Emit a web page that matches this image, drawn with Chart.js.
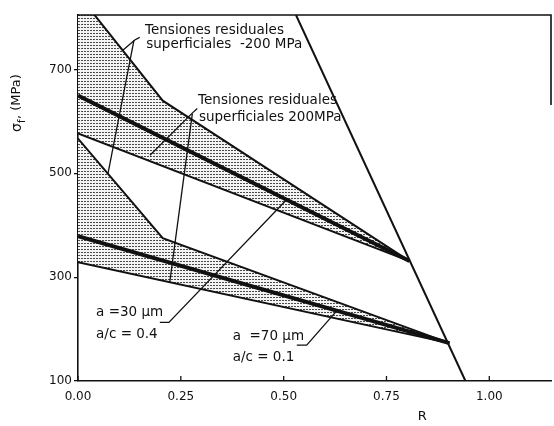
<!DOCTYPE html>
<html>
<head>
<meta charset="utf-8">
<script src="https://cdn.jsdelivr.net/npm/chart.js@4"></script>
<style>
  html, body { margin: 0; padding: 0; background: #fff; }
  #wrap { width: 554px; height: 426px; }
</style>
</head>
<body>
<div id="wrap"><canvas id="chart" width="554" height="426"></canvas></div>
<script>
// R (x) and sigma_f in MPa (y)

// upper band: residual stress -200 / +200 MPa around a = 30 um, a/c = 0.4
const upTopR = [0, 0.206, 0.806];
const upTopS = [845, 640, 331];
const upBotR = [0, 0.806];
const upBotS = [577, 331];
const upMidR = [0, 0.806];
const upMidS = [650, 331];

// lower band: a = 70 um, a/c = 0.1
const loTopR = [0, 0.206, 0.903];
const loTopS = [567, 375, 173];
const loBotR = [0, 0.903];
const loBotS = [329, 173];
const loMidR = [0, 0.903];
const loMidS = [379, 173];

// limit line
const limR = [0.53, 0.942];
const limS = [805, 100];

const xTicks = [0, 0.25, 0.5, 0.75, 1.0];
const yTicks = [100, 300, 500, 700];

// annotation texts (left edge R, centre sigma)
const notes = [
  { text: 'Tensiones residuales', r: 0.163, s: 776 },
  { text: 'superficiales  -200 MPa', r: 0.166, s: 748 },
  { text: 'Tensiones residuales', r: 0.292, s: 641 },
  { text: 'superficiales 200MPa', r: 0.294, s: 608 },
  { text: 'a =30 \u00b5m', r: 0.044, s: 231 },
  { text: 'a/c = 0.4', r: 0.044, s: 190 },
  { text: 'a  =70 \u00b5m', r: 0.376, s: 185 },
  { text: 'a/c = 0.1', r: 0.376, s: 146 }
];

// leader lines, as [R, sigma] polylines
const leaders = [
  [[0.109, 737], [0.138, 757], [0.150, 762]],
  [[0.073, 500], [0.136, 756]],
  [[0.175, 535], [0.279, 617], [0.290, 625]],
  [[0.223, 290], [0.278, 615]],
  [[0.199, 213], [0.221, 213], [0.507, 449]],
  [[0.532, 169], [0.556, 169], [0.629, 235]]
];

const pts = (xs, ys) => xs.map((x, i) => ({ x: x, y: ys[i] }));

function stipple() {
  const t = document.createElement('canvas');
  t.width = 3; t.height = 3;
  const g = t.getContext('2d');
  g.fillStyle = '#f4f4f4';
  g.fillRect(0, 0, 3, 3);
  g.fillStyle = '#4a4a4a';
  g.fillRect(0, 0, 2, 1);
  return g.createPattern(t, 'repeat');
}

const ctx = document.getElementById('chart').getContext('2d');
const dots = stipple();
const ink = '#111';

const line = (data, width, fill, order) => ({
  data: data,
  showLine: true,
  borderColor: ink,
  borderWidth: width,
  pointRadius: 0,
  backgroundColor: dots,
  fill: fill,
  order: order
});

const notesPlugin = {
  id: 'notes',
  afterDatasetsDraw(chart) {
    const c = chart.ctx;
    const xs = chart.scales.x, ys = chart.scales.y;
    const a = chart.chartArea;
    c.save();
    c.strokeStyle = ink;
    c.lineWidth = 1.3;
    leaders.forEach(pl => {
      c.beginPath();
      pl.forEach((p, i) => {
        const px = xs.getPixelForValue(p[0]), py = ys.getPixelForValue(p[1]);
        if (i === 0) c.moveTo(px, py); else c.lineTo(px, py);
      });
      c.stroke();
    });
    c.fillStyle = ink;
    c.font = '13.5px "DejaVu Sans"';
    c.textBaseline = 'middle';
    c.textAlign = 'left';
    notes.forEach(n => {
      c.fillText(n.text, xs.getPixelForValue(n.r), ys.getPixelForValue(n.s));
    });

    // frame: top edge and short right edge
    c.lineWidth = 1.6;
    c.beginPath();
    c.moveTo(a.left, a.top);
    c.lineTo(a.right, a.top);
    c.lineTo(a.right, a.top + 90);
    c.stroke();

    // inward x tick marks
    c.lineWidth = 1.3;
    xTicks.forEach(v => {
      const px = xs.getPixelForValue(v);
      c.beginPath();
      c.moveTo(px, a.bottom);
      c.lineTo(px, a.bottom - 5);
      c.stroke();
    });

    // y title with subscript
    c.translate(17, 108);
    c.rotate(-Math.PI / 2);
    c.textAlign = 'left';
    c.font = '14px "DejaVu Sans"';
    c.fillText('\u03c3', -24, 0);
    c.font = '10px "DejaVu Sans"';
    c.fillText('f', -15, 5);
    c.font = '13px "DejaVu Sans"';
    c.fillText(', (MPa)', -11, 0);
    c.restore();

    // x title
    c.save();
    c.fillStyle = ink;
    c.font = '13px "DejaVu Sans"';
    c.textAlign = 'center';
    c.textBaseline = 'middle';
    c.fillText('R', xs.getPixelForValue(0.837), 417);
    c.restore();
  }
};

new Chart(ctx, {
  type: 'scatter',
  data: {
    datasets: [
      line(pts(upTopR, upTopS), 2, 1, 10),
      line(pts(upBotR, upBotS), 2, false, 5),
      line(pts(upMidR, upMidS), 4, false, 1),
      line(pts(loTopR, loTopS), 2, 4, 10),
      line(pts(loBotR, loBotS), 2, false, 5),
      line(pts(loMidR, loMidS), 4, false, 1),
      line(pts(limR, limS), 2, false, 0)
    ]
  },
  options: {
    responsive: false,
    animation: false,
    layout: { padding: { top: 15, right: 3, left: 0, bottom: 0 } },
    plugins: { legend: { display: false }, tooltip: { enabled: false } },
    scales: {
      x: {
        type: 'linear', min: 0, max: 1.15,
        afterBuildTicks: s => { s.ticks = xTicks.map(v => ({ value: v })); },
        afterFit: s => { s.height = 45; },
        ticks: {
          color: ink, font: { family: 'DejaVu Sans', size: 12 }, padding: 9,
          maxRotation: 0, autoSkip: false,
          callback: v => Number(v).toFixed(2)
        },
        grid: { drawOnChartArea: false, drawTicks: false },
        border: { display: true, color: ink, width: 1.6 }
      },
      y: {
        type: 'linear', min: 100, max: 805,
        afterBuildTicks: s => { s.ticks = yTicks.map(v => ({ value: v })); },
        afterFit: s => { s.width = 78; },
        ticks: { color: ink, font: { family: 'DejaVu Sans', size: 12 }, padding: 2 },
        grid: { drawOnChartArea: false, drawTicks: true, tickLength: 4, color: ink, lineWidth: 1.3 },
        border: { display: true, color: ink, width: 1.6 }
      }
    }
  },
  plugins: [notesPlugin]
});
</script>
</body>
</html>
